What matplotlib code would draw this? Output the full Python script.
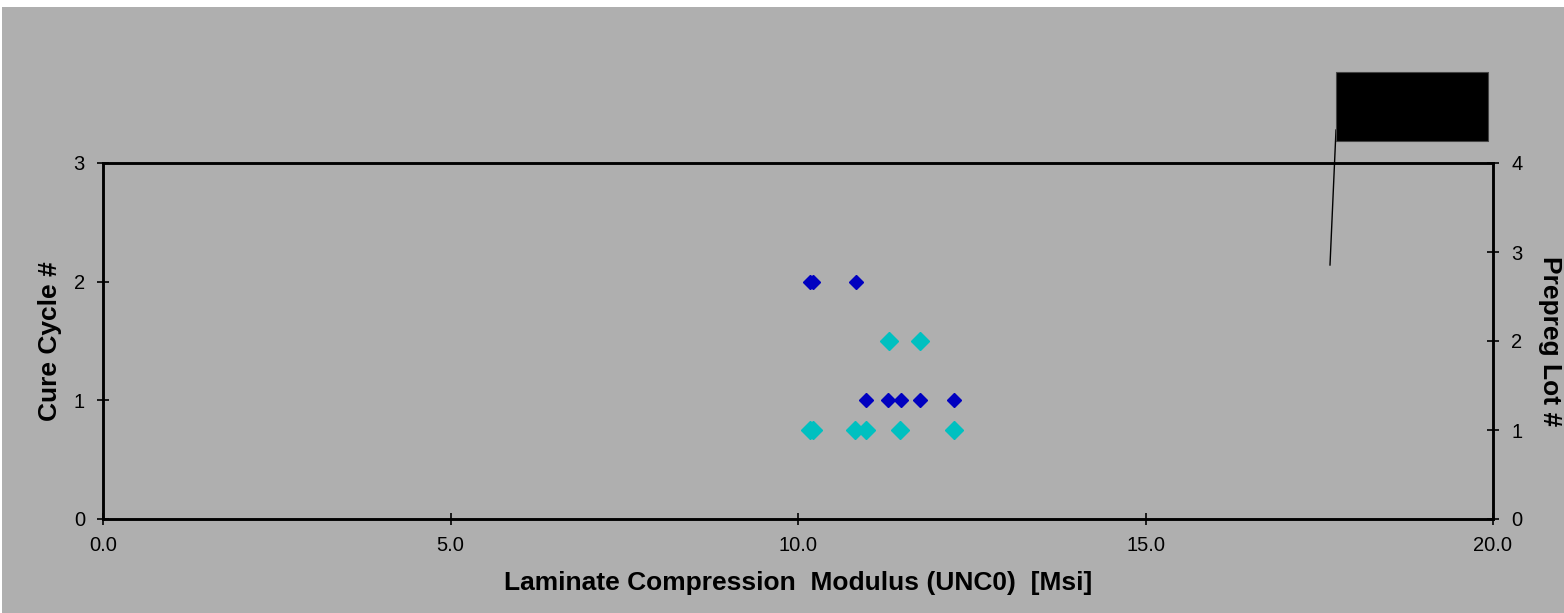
import matplotlib
matplotlib.use("Agg")
import matplotlib.pyplot as plt
from matplotlib.patches import Rectangle
from matplotlib.lines import Line2D

# Data
cure_x = [10.17, 10.21, 10.83, 10.98, 11.30, 11.48, 11.76, 12.25]
cure_y = [2, 2, 2, 1, 1, 1, 1, 1]
lot_x = [11.31, 11.76, 10.17, 10.21, 10.82, 10.98, 11.47, 12.25]
lot_y = [2, 2, 1, 1, 1, 1, 1, 1]
x_ticks = [0.0, 5.0, 10.0, 15.0, 20.0]
x_tick_labels = ["0.0", "5.0", "10.0", "15.0", "20.0"]
left_ticks = [0, 1, 2, 3]
right_ticks = [0, 1, 2, 3, 4]

W, H = 1564, 613
fig = plt.figure(figsize=(W / 100, H / 100), dpi=100)
fig.patch.set_facecolor("white")
bg = "#afafaf"
fig.patches.append(Rectangle((2 / W, 0), 1 - 2 / W, (H - 7) / H, transform=fig.transFigure,
                             facecolor=bg, edgecolor="none", zorder=-10))

ax = fig.add_axes([103 / W, 94 / H, (1493 - 103) / W, (519 - 163) / H])
ax.patch.set_alpha(0)
ax2 = ax.twinx()
ax2.patch.set_alpha(0)

tf = "Liberation Sans"
ax.set_xlim(0, 20)
ax.set_ylim(0, 3)
ax2.set_ylim(0, 4)
ax.set_xticks(x_ticks)
ax.set_xticklabels(x_tick_labels)
ax.set_yticks(left_ticks)
ax2.set_yticks(right_ticks)

for a in (ax, ax2):
    for s in a.spines.values():
        s.set_linewidth(1.8)
        s.set_color("black")
    a.tick_params(direction="inout", length=8, width=1.2, labelsize=14.5, colors="black")
    for lab in a.get_xticklabels() + a.get_yticklabels():
        lab.set_fontfamily(tf)
ax.tick_params(axis="y", pad=9)
ax2.tick_params(axis="y", pad=9)
ax.tick_params(axis="x", pad=8)

ax.plot(cure_x, cure_y, linestyle="none", marker="D", markersize=7.5,
        color="#0000c0", markeredgecolor="#0000c0", clip_on=False, zorder=5)
ax2.plot(lot_x, lot_y, linestyle="none", marker="D", markersize=9.5,
         color="#00c0c0", markeredgecolor="#00c0c0", clip_on=False, zorder=4)

ax.set_xlabel("Laminate Compression  Modulus (UNC0)  [Msi]", fontsize=19,
              fontweight="bold", family=tf, va="center")
ax.set_ylabel("Cure Cycle #", fontsize=19, fontweight="bold", family=tf, va="center")
ax2.set_ylabel("Prepreg Lot #", fontsize=19, fontweight="bold", family=tf,
               rotation=270, va="center")
ax.xaxis.set_label_coords(0.5, (519 - 583) / 356)
ax.yaxis.set_label_coords((50 - 103) / 1390, 0.5)
ax2.yaxis.set_label_coords((1550 - 103) / 1390, 0.5)

# black box (legend-like) and leader line
fig.patches.append(Rectangle((1336 / W, (H - 141) / H), (1488 - 1336) / W, (141 - 72) / H,
                             transform=fig.transFigure, facecolor="black",
                             edgecolor="#444444", linewidth=0.8, zorder=10))
fig.lines.append(Line2D([1336 / W, 1330 / W], [(H - 130) / H, (H - 265) / H],
                        transform=fig.transFigure, color="black", linewidth=1.0, zorder=10))

fig.savefig("out.png", dpi=100, facecolor=fig.get_facecolor())
